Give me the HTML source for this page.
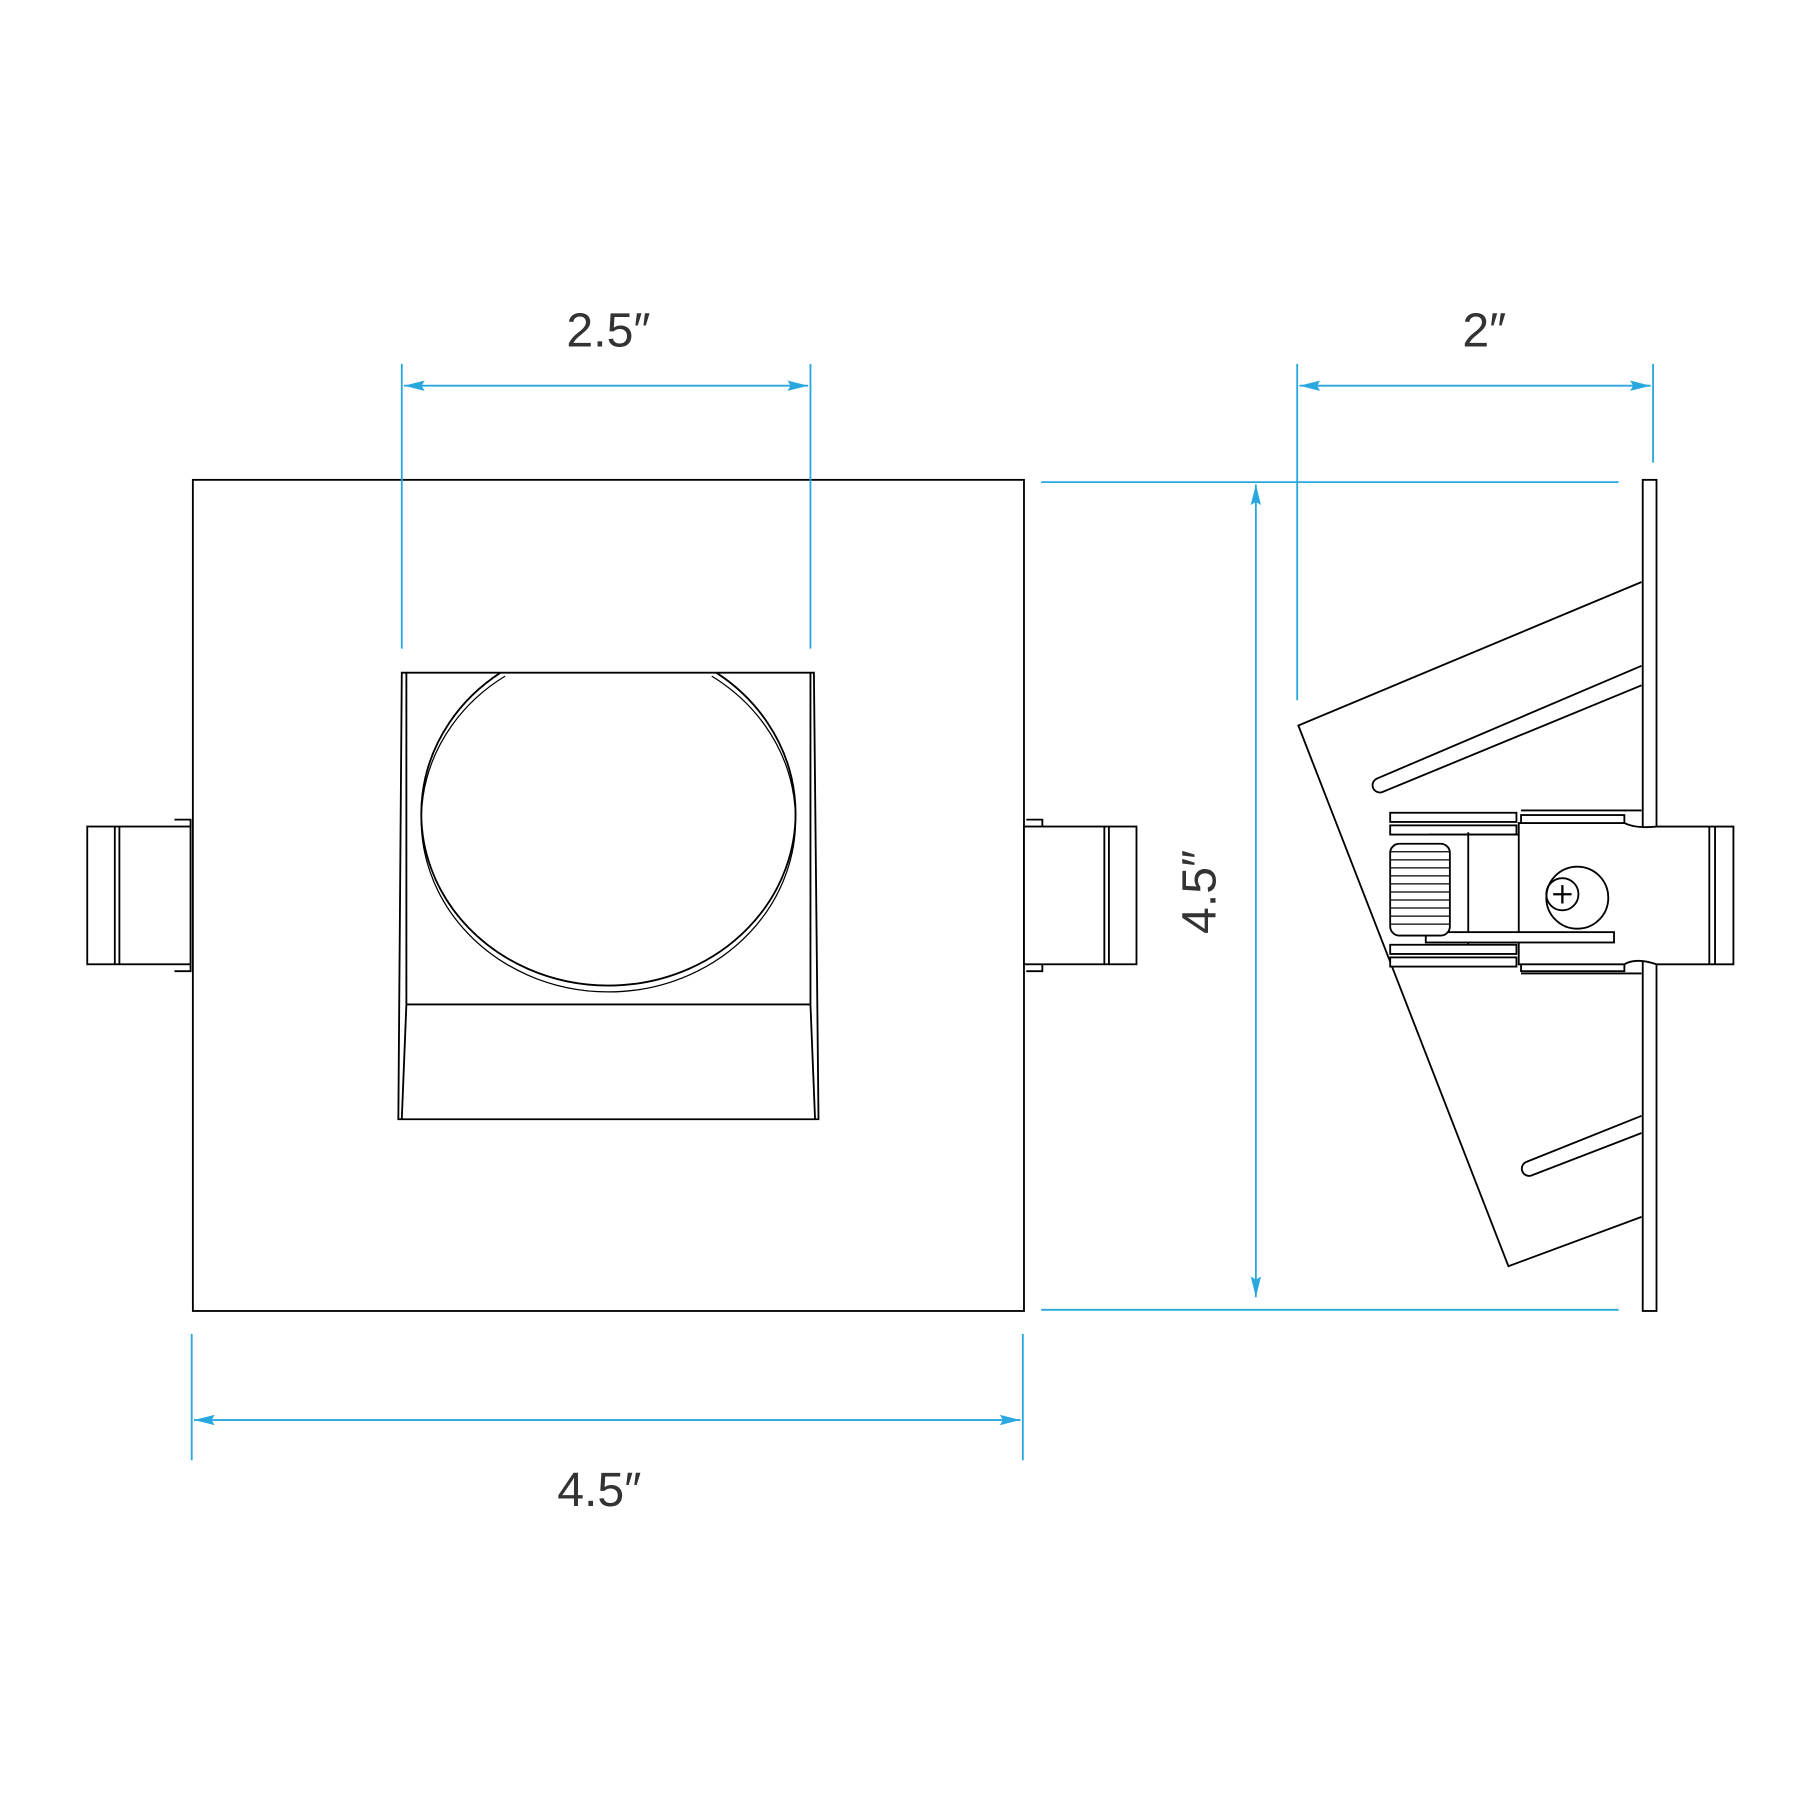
<!DOCTYPE html>
<html><head><meta charset="utf-8"><style>html,body{margin:0;padding:0;background:#fff}svg{display:block}</style></head>
<body>
<svg width="1800" height="1800" viewBox="0 0 1568 1568" xmlns="http://www.w3.org/2000/svg">
<defs>
<marker id="a" viewBox="0 0 20 10" refX="20" refY="5" markerWidth="18" markerHeight="9" markerUnits="userSpaceOnUse" orient="auto-start-reverse"><path d="M0,0 L20,5 L0,10 L3,5 Z" fill="#29a8e0"/></marker>
</defs>
<g fill="none" stroke="#000" stroke-width="1.6">
<rect x="168" y="418" width="724" height="724"/>
<path d="M350,586 L709,586 L713,975 L347,975 Z"/>
<path d="M354,586 L354,875 L350,975 M706,586 L706,875 L710,975 M354,875 L706,875"/>
<path d="M436,586 A163,150 0 1 0 624,586"/>
<path d="M440,589 A163,150 0 1 0 620,589" stroke-width="1.1"/>
<rect x="76" y="720" width="90" height="120" fill="#fff"/>
<path d="M100,720 V840 M104,720 V840"/>
<path d="M152,714 H166 V720 M152,846 H166 V840"/>
<rect x="892" y="720" width="98" height="120" fill="#fff"/>
<path d="M962,720 V840 M966,720 V840"/>
<path d="M894,714 H908 V720 M894,846 H908 V840"/>
<rect x="1431" y="418" width="12" height="724"/>
<path d="M1430,507 L1131,632 L1314,1103 L1430,1060"/>
<path d="M1430,580 L1200,678 A6,6 0 0 0 1204,690 L1430,597"/>
<path d="M1430,972 L1330,1012 A6,6 0 0 0 1334,1024 L1430,987"/>
<path d="M1325,706 H1430 M1325,848 H1430"/>
<rect x="1211" y="708" width="110" height="8" fill="#fff"/>
<rect x="1211" y="719" width="110" height="8" fill="#fff"/>
<rect x="1211" y="823" width="110" height="8" fill="#fff"/>
<rect x="1211" y="834" width="110" height="8" fill="#fff"/>
<rect x="1325" y="710" width="90" height="8" fill="#fff"/>
<rect x="1325" y="838" width="90" height="8" fill="#fff"/>
<path d="M1323,717 H1415 Q1425,722 1443,720 H1510 V840 H1443 Q1425,834 1415,840 H1323 Z" fill="#fff"/>
<path d="M1489,720 V840 M1494,720 V840"/>
<path d="M1279,725 V823 M1245,727 H1323"/>
<rect x="1242" y="812" width="164" height="9" fill="#fff"/>
<rect x="1211" y="735" width="52" height="80" rx="8" fill="#fff"/>
<path d="M1211,742 H1263 M1211,749 H1263 M1211,756 H1263 M1211,763 H1263 M1211,770 H1263 M1211,777 H1263 M1211,784 H1263 M1211,791 H1263 M1211,798 H1263 M1211,805 H1263" stroke-width="1.1"/>
<circle cx="1374" cy="782" r="27"/>
<circle cx="1361" cy="779" r="14"/>
<path d="M1361,771 v16 M1353,779 h16" stroke-width="2"/>
</g>
<g stroke="#29a8e0" stroke-width="1.6" fill="none">
<path d="M350,317 V565 M706,317 V565"/>
<line x1="352" y1="336" x2="704" y2="336" marker-start="url(#a)" marker-end="url(#a)"/>
<path d="M167,1162 V1272 M891,1162 V1272"/>
<line x1="169" y1="1237" x2="889" y2="1237" marker-start="url(#a)" marker-end="url(#a)"/>
<path d="M907,420 H1410 M907,1141 H1410"/>
<line x1="1094" y1="422" x2="1094" y2="1130" marker-start="url(#a)" marker-end="url(#a)"/>
<path d="M1130,317 V610 M1440,317 V403"/>
<line x1="1132" y1="336" x2="1438" y2="336" marker-start="url(#a)" marker-end="url(#a)"/>
</g>
<g font-family="'Liberation Sans','DejaVu Sans',sans-serif" font-size="42" fill="#333" text-anchor="middle">
<text x="530" y="302">2.5″</text>
<text x="522" y="1312">4.5″</text>
<text x="1293" y="302">2″</text>
<text x="0" y="0" transform="translate(1059,777) rotate(-90)">4.5″</text>
</g>
</svg>
</body></html>
